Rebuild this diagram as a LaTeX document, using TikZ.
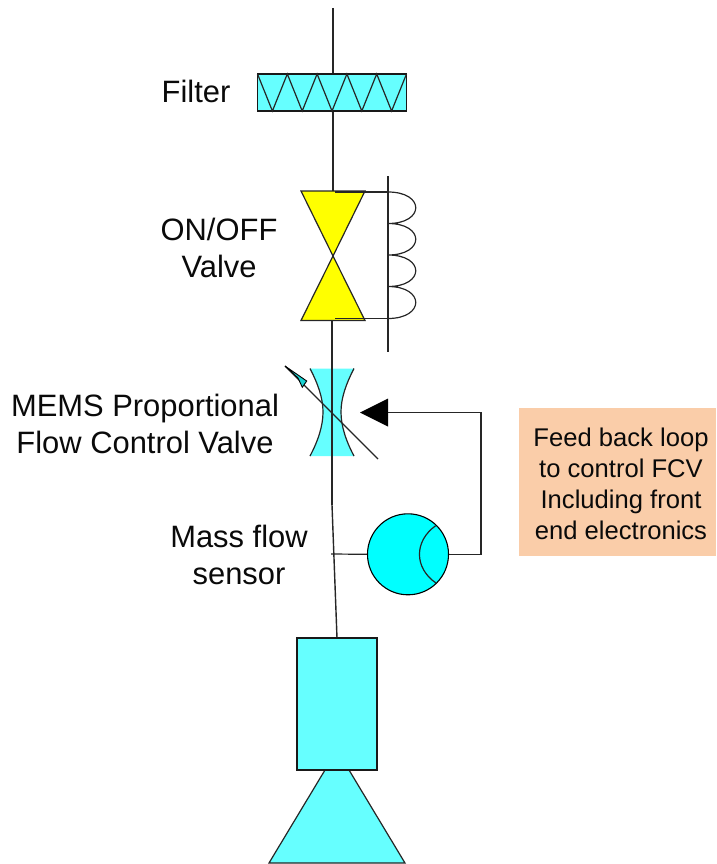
\documentclass[tikz,border=0pt]{standalone}
\usepackage{fontspec}
\setmainfont{Liberation Sans}
\definecolor{lcyan}{HTML}{66FFFF}
\definecolor{ccyan}{HTML}{00FFFF}
\definecolor{vyel}{HTML}{FFFF00}
\definecolor{boxor}{HTML}{FACDA9}
\definecolor{txt}{HTML}{0A0A0A}
\tikzset{
  ln/.style={draw=black!85,line width=1.2pt},
  lbl/.style={align=center,font=\fontsize{30.9}{37}\selectfont,text=txt,inner sep=0pt},
  small/.style={align=center,font=\fontsize{25.6}{31}\selectfont,text=txt,inner sep=0pt}
}
\begin{document}
\begin{tikzpicture}[x=1pt,y=-1pt,line join=miter]
\useasboundingbox (0,0) rectangle (716,864);
% named points
\coordinate (intop) at (333,8);
\coordinate (vtop) at (333,191);
\coordinate (vbot) at (332,321);
\coordinate (junct) at (332,505);
\coordinate (sensetap) at (331,554);
% filter
\node[draw=black!90,line width=1.2pt,fill=lcyan,minimum width=149pt,minimum height=37pt,inner sep=0pt] (filter) at (332,92.5) {};
\draw[ln] (257.5,74) -- (272.4,111) -- (287.3,74) -- (302.2,111) -- (317.1,74) -- (332,111) -- (346.9,74) -- (361.8,111) -- (376.7,74) -- (391.6,111) -- (406.5,74);
\draw[ln] (intop) -- (intop |- filter.north);
\draw[ln] (filter.south -| vtop) -- (vtop);
% on/off valve
\draw[ln,fill=vyel] (301,191) -- (365,191) -- (333,256) -- cycle;
\draw[ln,fill=vyel] (301,320.5) -- (365,320.5) -- (333,256) -- cycle;
\draw[ln] (vbot) -- (332,368);
% solenoid
\draw[ln] (388,176) -- (388,352);
\draw[ln] (335,192) -- (388,192);
\draw[ln] (335,318.5) -- (388,318.5);
\draw[ln] (388,192) .. controls (425,192) and (425,223.5) .. (388,223.5)
  .. controls (425,223.5) and (425,255) .. (388,255)
  .. controls (425,255) and (425,286.5) .. (388,286.5)
  .. controls (425,286.5) and (425,318.5) .. (388,318.5);
% FCV
\path[fill=lcyan] (310,368.5) -- (354,368.5) .. controls (346,384) and (341,398) .. (341,412) .. controls (341,426) and (346,441) .. (354,456) -- (310,456) .. controls (318,441) and (323,426) .. (323,412) .. controls (323,398) and (318,384) .. (310,368.5) -- cycle;
\draw[ln] (310,368.5) .. controls (318,384) and (323,398) .. (323,412) .. controls (323,426) and (318,441) .. (310,456);
\draw[ln] (354,368.5) .. controls (346,384) and (341,398) .. (341,412) .. controls (341,426) and (346,441) .. (354,456);
\draw[ln] (332,355) -- (junct);
\draw[ln] (378,459) -- (285,366);
\draw[draw=black,line width=0.9pt,fill=ccyan!80!black!90] (285,366) -- (306.7,381) -- (302.3,387.3) -- (298,378) -- cycle;
% process line
\draw[ln,line width=1.4pt] (junct) -- (337,638);
% sensor
\node[circle,draw=black,line width=1.1pt,fill=ccyan,minimum size=81pt,inner sep=0pt] (sensor) at (408,554.3) {};
\draw[ln] (435.7,525.7) .. controls (414,541) and (414,568) .. (436,583);
\draw[ln] (sensetap) -- (sensor.west);
% feedback
\fill[black] (360,412.5) -- (388,398.5) -- (388,426.5) -- cycle;
\coordinate (arrbase) at (388,412.5);
\coordinate (fbcorner) at (481,412.5);
\draw[ln] (sensor.east) -- (481,554.3) -- (fbcorner) -- (arrbase);
% nozzle
\draw[ln,line width=1.2pt,fill=lcyan] (269,863) -- (325,770) -- (349,770) -- (405,863) -- cycle;
\node[draw=black!90,line width=1.2pt,fill=lcyan,minimum width=80pt,minimum height=132pt,inner sep=0pt] (body) at (337,704) {};
% box
\node[fill=boxor,minimum width=197pt,minimum height=148pt,inner sep=0pt] (fbbox) at (617.5,482) {};
\node[small] (fbtext) at (621,483.5) {Feed back loop\\to control FCV\\Including front\\end electronics};
% labels
\node[lbl] (lfilter) at (196,91.5) {Filter};
\node[lbl] (lvalve) at (219,248) {ON/OFF\\Valve};
\node[lbl] (lmems) at (145,424) {MEMS Proportional\\Flow Control Valve};
\node[lbl] (lmass) at (239,554.5) {Mass flow\\sensor};
\end{tikzpicture}
\end{document}
